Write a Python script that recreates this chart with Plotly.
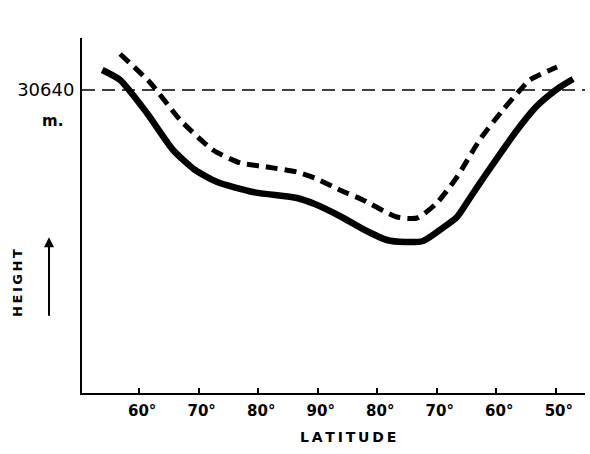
import plotly.graph_objects as go

# x positions: 0 = first tick (60°), 10 per labelled tick along the cross-section
tick_vals = [0, 10, 20, 30, 40, 50, 60, 70]
tick_text = ["60°", "70°", "80°", "90°", "80°", "70°", "60°", "50°"]

solid_x = [-6.2, -3.2, 1.3, 5.7, 9.4, 13.1, 19.1, 26.5, 29.5, 33.7, 37.9, 41.6,
           44.7, 47.7, 50.5, 53.4, 55.9, 58.4, 63.5, 66.5, 68.5, 70.7, 72.9]
solid_y = [30840, 30740, 30410, 30040, 29840, 29720, 29620, 29560, 29500, 29380,
           29240, 29140, 29120, 29130, 29240, 29370, 29590, 29810, 30240, 30460,
           30570, 30670, 30750]

dashed_x = [-3.2, 1.9, 6.9, 12.4, 17.0, 21.5, 26.5, 29.5, 33.7, 37.6, 43.3, 46.7,
            50.0, 53.4, 57.2, 61.1, 64.0, 65.6, 70.2]
dashed_y = [31000, 30710, 30340, 30040, 29910, 29870, 29820, 29760, 29640, 29540,
            29370, 29360, 29510, 29770, 30140, 30440, 30640, 30740, 30870]

ref_height = 30640

fig = go.Figure()
fig.add_trace(go.Scatter(x=solid_x, y=solid_y, mode="lines",
                         line=dict(color="black", width=6.5, shape="spline", smoothing=0.6),
                         hoverinfo="skip"))
fig.add_trace(go.Scatter(x=dashed_x, y=dashed_y, mode="lines",
                         line=dict(color="black", width=5, dash="12px,7px",
                                   shape="spline", smoothing=0.6),
                         hoverinfo="skip"))

fig.add_shape(type="line", xref="paper", x0=0, x1=1, yref="y", y0=ref_height, y1=ref_height,
              line=dict(color="black", width=1.3, dash="13px,7px"))

font = "DejaVu Sans"
fig.update_layout(
    width=590, height=454,
    margin=dict(l=82, r=5, t=38, b=61),
    plot_bgcolor="white", paper_bgcolor="white",
    showlegend=False,
    font=dict(family=font, color="black", size=12),
    xaxis=dict(range=[-9.6, 74.9], tickvals=tick_vals, ticktext=tick_text,
               ticks="inside", ticklen=5, tickwidth=1.5, tickcolor="black",
               showline=True, linecolor="black", linewidth=2, showgrid=False,
               zeroline=False, ticklabelstandoff=3, ticklabelshift=3,
               tickfont=dict(size=15, family=font, weight="bold")),
    yaxis=dict(range=[27610, 31160], tickvals=[ref_height], ticktext=["30640"],
               ticks="", showline=True, linecolor="black", linewidth=2,
               showgrid=False, zeroline=False, ticklabelstandoff=2,
               tickfont=dict(size=18, family=font)),
)

fig.add_annotation(xref="paper", yref="paper", x=-0.058, y=0.765, xanchor="center",
                   yanchor="middle", text="m.", showarrow=False,
                   font=dict(size=15, family=font, weight="bold"))
fig.add_annotation(xref="paper", yref="paper", x=-0.127, y=0.31, xanchor="center",
                   yanchor="middle",
                   text="H\u2009E\u2009I\u2009G\u2009H\u2009T", textangle=-90,
                   showarrow=False, font=dict(size=13, family=font, weight="bold"))
fig.add_annotation(xref="paper", yref="paper", x=-0.0656, y=0.439,
                   axref="pixel", ayref="pixel", ax=0, ay=80, text="",
                   showarrow=True, arrowhead=2, arrowsize=1, arrowwidth=2,
                   arrowcolor="black")
fig.add_annotation(xref="paper", yref="paper", x=0.528, y=-0.124, xanchor="center",
                   yanchor="middle",
                   text="L\u2009A\u2009T\u2009I\u2009T\u2009U\u2009D\u2009E",
                   showarrow=False, font=dict(size=14, family=font, weight="bold"))

fig.write_html("out.html")
